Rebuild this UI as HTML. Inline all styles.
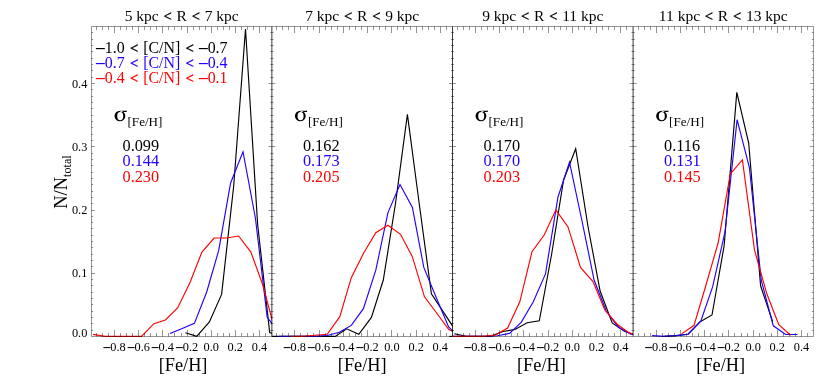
<!DOCTYPE html><html><head><meta charset="utf-8"><style>html,body{margin:0;padding:0;background:#fff}svg{display:block;will-change:transform}text{font-family:"Liberation Serif",serif}</style></head><body>
<svg width="830" height="378" viewBox="0 0 830 378">
<rect width="830" height="378" fill="#fff"/>
<defs>
<clipPath id="c0"><rect x="91.5" y="26.5" width="180.55" height="310.6"/></clipPath>
<clipPath id="c1"><rect x="271.87" y="26.5" width="180.55" height="310.6"/></clipPath>
<clipPath id="c2"><rect x="452.5" y="26.5" width="180.55" height="310.6"/></clipPath>
<clipPath id="c3"><rect x="633.1" y="26.5" width="180.55" height="310.6"/></clipPath>
</defs>
<g clip-path="url(#c0)" fill="none" stroke-width="1.15" stroke-linejoin="miter" stroke-linecap="butt">
<polyline points="185.4,332.7 196.7,336.4 209.4,322.0 221.6,294.4 233.7,186.0 245.5,29.0 257.6,224.0 269.7,332.5 281.8,336.4" stroke="#000"/>
<polyline points="170.1,333.5 182.2,328.5 194.4,323.4 206.7,292.0 218.7,250.4 230.6,183.0 243.0,151.7 255.4,218.0 267.2,317.3 279.4,333.0" stroke="#2000ff"/>
<polyline points="93.1,334.4 105.1,336.4 117.0,336.4 129.2,336.4 141.5,336.4 153.9,323.7 165.4,320.0 177.6,308.0 189.9,282.7 201.9,252.1 214.1,238.0 226.4,238.0 238.6,236.0 250.9,252.1 262.8,285.0 274.9,330.0" stroke="#ff0000"/>
</g>
<g clip-path="url(#c1)" fill="none" stroke-width="1.15" stroke-linejoin="miter" stroke-linecap="butt">
<polyline points="262.0,336.4 335.2,336.4 346.7,328.8 358.8,334.3 371.4,317.4 383.3,280.0 395.5,203.5 407.4,114.3 419.8,208.0 431.4,293.8 444.1,313.1 456.2,331.5" stroke="#000"/>
<polyline points="278.8,336.4 315.1,336.4 327.2,335.5 339.3,332.2 351.3,325.4 363.4,308.7 375.8,270.2 387.9,212.8 400.0,184.6 412.4,207.5 423.8,267.4 436.1,297.2 448.6,327.0 460.7,337.9" stroke="#2000ff"/>
<polyline points="290.8,336.4 303.0,336.4 315.1,335.3 327.2,334.3 339.8,316.7 351.3,277.7 363.7,253.0 375.8,232.7 387.9,225.3 400.5,234.3 412.3,256.6 424.5,296.8 436.6,313.0 448.6,329.3 460.9,336.0" stroke="#ff0000"/>
</g>
<g clip-path="url(#c2)" fill="none" stroke-width="1.15" stroke-linejoin="miter" stroke-linecap="butt">
<polyline points="454.3,333.8 466.4,336.4 478.6,336.4 490.7,336.4 502.9,331.5 515.0,329.5 527.2,322.8 539.3,320.8 551.5,255.0 563.6,180.0 575.7,148.7 587.9,226.0 600.1,291.0 612.2,323.0 624.4,331.3 636.5,335.5" stroke="#000"/>
<polyline points="445.0,336.4 485.0,336.4 497.3,335.8 509.5,333.4 521.2,322.4 533.3,301.8 545.5,273.9 558.0,197.0 569.5,162.2 582.0,221.0 594.1,280.0 606.2,311.0 618.3,327.2 630.4,334.0 642.0,336.0" stroke="#2000ff"/>
<polyline points="445.0,336.4 483.4,336.4 495.5,335.0 507.6,328.1 519.8,301.8 532.0,251.7 544.2,235.0 555.9,209.8 568.0,226.9 580.5,267.4 593.0,281.6 604.7,309.8 617.1,324.2 629.3,333.0 641.3,336.0" stroke="#ff0000"/>
</g>
<g clip-path="url(#c3)" fill="none" stroke-width="1.15" stroke-linejoin="miter" stroke-linecap="butt">
<polyline points="663.4,336.4 675.5,335.6 687.7,334.3 699.8,321.9 712.0,315.0 724.1,246.0 736.8,92.4 748.7,143.0 760.6,285.8 772.7,321.8" stroke="#000"/>
<polyline points="652.1,335.6 664.2,336.4 676.4,335.6 688.4,334.2 700.8,321.2 712.6,286.9 725.0,232.0 737.1,119.7 749.4,167.5 761.2,280.0 773.3,325.8 785.7,334.5 797.5,334.5" stroke="#2000ff"/>
<polyline points="681.6,333.9 694.0,325.3 706.0,285.0 718.1,243.0 730.3,174.0 742.4,159.9 754.5,250.0 766.8,293.8 778.8,324.7 790.6,335.3" stroke="#ff0000"/>
</g>
<path d="M449.1 336.4H452.5" stroke="#000" stroke-width="1.1" fill="none"/>
<path d="M271.87 26.5V336.5M452.5 26.5V336.5M633.1 26.5V336.5" fill="none" stroke="#000" stroke-width="0.78"/>
<path d="M91.5 26.5H813.5M91.5 336.5H813.5M91.5 26.5V336.5M813.5 26.5V336.5M96.50 336.5v-3.5M96.50 26.5v3.5M102.50 336.5v-3.5M102.50 26.5v3.5M108.50 336.5v-3.5M108.50 26.5v3.5M114.50 336.5v-6.5M114.50 26.5v6.5M120.50 336.5v-3.5M120.50 26.5v3.5M126.50 336.5v-3.5M126.50 26.5v3.5M132.50 336.5v-3.5M132.50 26.5v3.5M138.50 336.5v-6.5M138.50 26.5v6.5M144.50 336.5v-3.5M144.50 26.5v3.5M150.50 336.5v-3.5M150.50 26.5v3.5M156.50 336.5v-3.5M156.50 26.5v3.5M162.50 336.5v-6.5M162.50 26.5v6.5M168.50 336.5v-3.5M168.50 26.5v3.5M174.50 336.5v-3.5M174.50 26.5v3.5M181.50 336.5v-3.5M181.50 26.5v3.5M187.50 336.5v-6.5M187.50 26.5v6.5M193.50 336.5v-3.5M193.50 26.5v3.5M199.50 336.5v-3.5M199.50 26.5v3.5M205.50 336.5v-3.5M205.50 26.5v3.5M211.50 336.5v-6.5M211.50 26.5v6.5M217.50 336.5v-3.5M217.50 26.5v3.5M223.50 336.5v-3.5M223.50 26.5v3.5M229.50 336.5v-3.5M229.50 26.5v3.5M235.50 336.5v-6.5M235.50 26.5v6.5M241.50 336.5v-3.5M241.50 26.5v3.5M247.50 336.5v-3.5M247.50 26.5v3.5M253.50 336.5v-3.5M253.50 26.5v3.5M259.50 336.5v-6.5M259.50 26.5v6.5M265.50 336.5v-3.5M265.50 26.5v3.5M276.50 336.5v-3.5M276.50 26.5v3.5M282.50 336.5v-3.5M282.50 26.5v3.5M288.50 336.5v-3.5M288.50 26.5v3.5M294.50 336.5v-6.5M294.50 26.5v6.5M300.50 336.5v-3.5M300.50 26.5v3.5M307.50 336.5v-3.5M307.50 26.5v3.5M313.50 336.5v-3.5M313.50 26.5v3.5M319.50 336.5v-6.5M319.50 26.5v6.5M325.50 336.5v-3.5M325.50 26.5v3.5M331.50 336.5v-3.5M331.50 26.5v3.5M337.50 336.5v-3.5M337.50 26.5v3.5M343.50 336.5v-6.5M343.50 26.5v6.5M349.50 336.5v-3.5M349.50 26.5v3.5M355.50 336.5v-3.5M355.50 26.5v3.5M361.50 336.5v-3.5M361.50 26.5v3.5M367.50 336.5v-6.5M367.50 26.5v6.5M373.50 336.5v-3.5M373.50 26.5v3.5M379.50 336.5v-3.5M379.50 26.5v3.5M385.50 336.5v-3.5M385.50 26.5v3.5M391.50 336.5v-6.5M391.50 26.5v6.5M397.50 336.5v-3.5M397.50 26.5v3.5M403.50 336.5v-3.5M403.50 26.5v3.5M410.50 336.5v-3.5M410.50 26.5v3.5M416.50 336.5v-6.5M416.50 26.5v6.5M422.50 336.5v-3.5M422.50 26.5v3.5M428.50 336.5v-3.5M428.50 26.5v3.5M434.50 336.5v-3.5M434.50 26.5v3.5M440.50 336.5v-6.5M440.50 26.5v6.5M446.50 336.5v-3.5M446.50 26.5v3.5M457.50 336.5v-3.5M457.50 26.5v3.5M463.50 336.5v-3.5M463.50 26.5v3.5M469.50 336.5v-3.5M469.50 26.5v3.5M475.50 336.5v-6.5M475.50 26.5v6.5M481.50 336.5v-3.5M481.50 26.5v3.5M487.50 336.5v-3.5M487.50 26.5v3.5M493.50 336.5v-3.5M493.50 26.5v3.5M499.50 336.5v-6.5M499.50 26.5v6.5M505.50 336.5v-3.5M505.50 26.5v3.5M511.50 336.5v-3.5M511.50 26.5v3.5M517.50 336.5v-3.5M517.50 26.5v3.5M523.50 336.5v-6.5M523.50 26.5v6.5M529.50 336.5v-3.5M529.50 26.5v3.5M536.50 336.5v-3.5M536.50 26.5v3.5M542.50 336.5v-3.5M542.50 26.5v3.5M548.50 336.5v-6.5M548.50 26.5v6.5M554.50 336.5v-3.5M554.50 26.5v3.5M560.50 336.5v-3.5M560.50 26.5v3.5M566.50 336.5v-3.5M566.50 26.5v3.5M572.50 336.5v-6.5M572.50 26.5v6.5M578.50 336.5v-3.5M578.50 26.5v3.5M584.50 336.5v-3.5M584.50 26.5v3.5M590.50 336.5v-3.5M590.50 26.5v3.5M596.50 336.5v-6.5M596.50 26.5v6.5M602.50 336.5v-3.5M602.50 26.5v3.5M608.50 336.5v-3.5M608.50 26.5v3.5M614.50 336.5v-3.5M614.50 26.5v3.5M620.50 336.5v-6.5M620.50 26.5v6.5M626.50 336.5v-3.5M626.50 26.5v3.5M638.50 336.5v-3.5M638.50 26.5v3.5M644.50 336.5v-3.5M644.50 26.5v3.5M650.50 336.5v-3.5M650.50 26.5v3.5M656.50 336.5v-6.5M656.50 26.5v6.5M662.50 336.5v-3.5M662.50 26.5v3.5M668.50 336.5v-3.5M668.50 26.5v3.5M674.50 336.5v-3.5M674.50 26.5v3.5M680.50 336.5v-6.5M680.50 26.5v6.5M686.50 336.5v-3.5M686.50 26.5v3.5M692.50 336.5v-3.5M692.50 26.5v3.5M698.50 336.5v-3.5M698.50 26.5v3.5M704.50 336.5v-6.5M704.50 26.5v6.5M710.50 336.5v-3.5M710.50 26.5v3.5M716.50 336.5v-3.5M716.50 26.5v3.5M722.50 336.5v-3.5M722.50 26.5v3.5M728.50 336.5v-6.5M728.50 26.5v6.5M734.50 336.5v-3.5M734.50 26.5v3.5M741.50 336.5v-3.5M741.50 26.5v3.5M747.50 336.5v-3.5M747.50 26.5v3.5M753.50 336.5v-6.5M753.50 26.5v6.5M759.50 336.5v-3.5M759.50 26.5v3.5M765.50 336.5v-3.5M765.50 26.5v3.5M771.50 336.5v-3.5M771.50 26.5v3.5M777.50 336.5v-6.5M777.50 26.5v6.5M783.50 336.5v-3.5M783.50 26.5v3.5M789.50 336.5v-3.5M789.50 26.5v3.5M795.50 336.5v-3.5M795.50 26.5v3.5M801.50 336.5v-6.5M801.50 26.5v6.5M807.50 336.5v-3.5M807.50 26.5v3.5M91.5 330.50h1.6M271.87 330.50h-1.6M91.5 323.50h1.6M271.87 323.50h-1.6M91.5 317.50h1.6M271.87 317.50h-1.6M91.5 311.50h1.6M271.87 311.50h-1.6M91.5 304.50h1.6M271.87 304.50h-1.6M91.5 298.50h1.6M271.87 298.50h-1.6M91.5 292.50h1.6M271.87 292.50h-1.6M91.5 285.50h1.6M271.87 285.50h-1.6M91.5 279.50h1.6M271.87 279.50h-1.6M91.5 273.50h3.5M271.87 273.50h-3.5M91.5 266.50h1.6M271.87 266.50h-1.6M91.5 260.50h1.6M271.87 260.50h-1.6M91.5 254.50h1.6M271.87 254.50h-1.6M91.5 247.50h1.6M271.87 247.50h-1.6M91.5 241.50h1.6M271.87 241.50h-1.6M91.5 235.50h1.6M271.87 235.50h-1.6M91.5 228.50h1.6M271.87 228.50h-1.6M91.5 222.50h1.6M271.87 222.50h-1.6M91.5 216.50h1.6M271.87 216.50h-1.6M91.5 210.50h3.5M271.87 210.50h-3.5M91.5 203.50h1.6M271.87 203.50h-1.6M91.5 197.50h1.6M271.87 197.50h-1.6M91.5 191.50h1.6M271.87 191.50h-1.6M91.5 184.50h1.6M271.87 184.50h-1.6M91.5 178.50h1.6M271.87 178.50h-1.6M91.5 172.50h1.6M271.87 172.50h-1.6M91.5 165.50h1.6M271.87 165.50h-1.6M91.5 159.50h1.6M271.87 159.50h-1.6M91.5 153.50h1.6M271.87 153.50h-1.6M91.5 146.50h3.5M271.87 146.50h-3.5M91.5 140.50h1.6M271.87 140.50h-1.6M91.5 134.50h1.6M271.87 134.50h-1.6M91.5 127.50h1.6M271.87 127.50h-1.6M91.5 121.50h1.6M271.87 121.50h-1.6M91.5 115.50h1.6M271.87 115.50h-1.6M91.5 108.50h1.6M271.87 108.50h-1.6M91.5 102.50h1.6M271.87 102.50h-1.6M91.5 96.50h1.6M271.87 96.50h-1.6M91.5 89.50h1.6M271.87 89.50h-1.6M91.5 83.50h3.5M271.87 83.50h-3.5M91.5 77.50h1.6M271.87 77.50h-1.6M91.5 70.50h1.6M271.87 70.50h-1.6M91.5 64.50h1.6M271.87 64.50h-1.6M91.5 58.50h1.6M271.87 58.50h-1.6M91.5 51.50h1.6M271.87 51.50h-1.6M91.5 45.50h1.6M271.87 45.50h-1.6M91.5 39.50h1.6M271.87 39.50h-1.6M91.5 32.50h1.6M271.87 32.50h-1.6M271.87 330.50h1.6M452.5 330.50h-1.6M271.87 323.50h1.6M452.5 323.50h-1.6M271.87 317.50h1.6M452.5 317.50h-1.6M271.87 311.50h1.6M452.5 311.50h-1.6M271.87 304.50h1.6M452.5 304.50h-1.6M271.87 298.50h1.6M452.5 298.50h-1.6M271.87 292.50h1.6M452.5 292.50h-1.6M271.87 285.50h1.6M452.5 285.50h-1.6M271.87 279.50h1.6M452.5 279.50h-1.6M271.87 273.50h3.5M452.5 273.50h-3.5M271.87 266.50h1.6M452.5 266.50h-1.6M271.87 260.50h1.6M452.5 260.50h-1.6M271.87 254.50h1.6M452.5 254.50h-1.6M271.87 247.50h1.6M452.5 247.50h-1.6M271.87 241.50h1.6M452.5 241.50h-1.6M271.87 235.50h1.6M452.5 235.50h-1.6M271.87 228.50h1.6M452.5 228.50h-1.6M271.87 222.50h1.6M452.5 222.50h-1.6M271.87 216.50h1.6M452.5 216.50h-1.6M271.87 210.50h3.5M452.5 210.50h-3.5M271.87 203.50h1.6M452.5 203.50h-1.6M271.87 197.50h1.6M452.5 197.50h-1.6M271.87 191.50h1.6M452.5 191.50h-1.6M271.87 184.50h1.6M452.5 184.50h-1.6M271.87 178.50h1.6M452.5 178.50h-1.6M271.87 172.50h1.6M452.5 172.50h-1.6M271.87 165.50h1.6M452.5 165.50h-1.6M271.87 159.50h1.6M452.5 159.50h-1.6M271.87 153.50h1.6M452.5 153.50h-1.6M271.87 146.50h3.5M452.5 146.50h-3.5M271.87 140.50h1.6M452.5 140.50h-1.6M271.87 134.50h1.6M452.5 134.50h-1.6M271.87 127.50h1.6M452.5 127.50h-1.6M271.87 121.50h1.6M452.5 121.50h-1.6M271.87 115.50h1.6M452.5 115.50h-1.6M271.87 108.50h1.6M452.5 108.50h-1.6M271.87 102.50h1.6M452.5 102.50h-1.6M271.87 96.50h1.6M452.5 96.50h-1.6M271.87 89.50h1.6M452.5 89.50h-1.6M271.87 83.50h3.5M452.5 83.50h-3.5M271.87 77.50h1.6M452.5 77.50h-1.6M271.87 70.50h1.6M452.5 70.50h-1.6M271.87 64.50h1.6M452.5 64.50h-1.6M271.87 58.50h1.6M452.5 58.50h-1.6M271.87 51.50h1.6M452.5 51.50h-1.6M271.87 45.50h1.6M452.5 45.50h-1.6M271.87 39.50h1.6M452.5 39.50h-1.6M271.87 32.50h1.6M452.5 32.50h-1.6M452.5 330.50h1.6M633.1 330.50h-1.6M452.5 323.50h1.6M633.1 323.50h-1.6M452.5 317.50h1.6M633.1 317.50h-1.6M452.5 311.50h1.6M633.1 311.50h-1.6M452.5 304.50h1.6M633.1 304.50h-1.6M452.5 298.50h1.6M633.1 298.50h-1.6M452.5 292.50h1.6M633.1 292.50h-1.6M452.5 285.50h1.6M633.1 285.50h-1.6M452.5 279.50h1.6M633.1 279.50h-1.6M452.5 273.50h3.5M633.1 273.50h-3.5M452.5 266.50h1.6M633.1 266.50h-1.6M452.5 260.50h1.6M633.1 260.50h-1.6M452.5 254.50h1.6M633.1 254.50h-1.6M452.5 247.50h1.6M633.1 247.50h-1.6M452.5 241.50h1.6M633.1 241.50h-1.6M452.5 235.50h1.6M633.1 235.50h-1.6M452.5 228.50h1.6M633.1 228.50h-1.6M452.5 222.50h1.6M633.1 222.50h-1.6M452.5 216.50h1.6M633.1 216.50h-1.6M452.5 210.50h3.5M633.1 210.50h-3.5M452.5 203.50h1.6M633.1 203.50h-1.6M452.5 197.50h1.6M633.1 197.50h-1.6M452.5 191.50h1.6M633.1 191.50h-1.6M452.5 184.50h1.6M633.1 184.50h-1.6M452.5 178.50h1.6M633.1 178.50h-1.6M452.5 172.50h1.6M633.1 172.50h-1.6M452.5 165.50h1.6M633.1 165.50h-1.6M452.5 159.50h1.6M633.1 159.50h-1.6M452.5 153.50h1.6M633.1 153.50h-1.6M452.5 146.50h3.5M633.1 146.50h-3.5M452.5 140.50h1.6M633.1 140.50h-1.6M452.5 134.50h1.6M633.1 134.50h-1.6M452.5 127.50h1.6M633.1 127.50h-1.6M452.5 121.50h1.6M633.1 121.50h-1.6M452.5 115.50h1.6M633.1 115.50h-1.6M452.5 108.50h1.6M633.1 108.50h-1.6M452.5 102.50h1.6M633.1 102.50h-1.6M452.5 96.50h1.6M633.1 96.50h-1.6M452.5 89.50h1.6M633.1 89.50h-1.6M452.5 83.50h3.5M633.1 83.50h-3.5M452.5 77.50h1.6M633.1 77.50h-1.6M452.5 70.50h1.6M633.1 70.50h-1.6M452.5 64.50h1.6M633.1 64.50h-1.6M452.5 58.50h1.6M633.1 58.50h-1.6M452.5 51.50h1.6M633.1 51.50h-1.6M452.5 45.50h1.6M633.1 45.50h-1.6M452.5 39.50h1.6M633.1 39.50h-1.6M452.5 32.50h1.6M633.1 32.50h-1.6M633.1 330.50h1.6M813.5 330.50h-1.6M633.1 323.50h1.6M813.5 323.50h-1.6M633.1 317.50h1.6M813.5 317.50h-1.6M633.1 311.50h1.6M813.5 311.50h-1.6M633.1 304.50h1.6M813.5 304.50h-1.6M633.1 298.50h1.6M813.5 298.50h-1.6M633.1 292.50h1.6M813.5 292.50h-1.6M633.1 285.50h1.6M813.5 285.50h-1.6M633.1 279.50h1.6M813.5 279.50h-1.6M633.1 273.50h3.5M813.5 273.50h-3.5M633.1 266.50h1.6M813.5 266.50h-1.6M633.1 260.50h1.6M813.5 260.50h-1.6M633.1 254.50h1.6M813.5 254.50h-1.6M633.1 247.50h1.6M813.5 247.50h-1.6M633.1 241.50h1.6M813.5 241.50h-1.6M633.1 235.50h1.6M813.5 235.50h-1.6M633.1 228.50h1.6M813.5 228.50h-1.6M633.1 222.50h1.6M813.5 222.50h-1.6M633.1 216.50h1.6M813.5 216.50h-1.6M633.1 210.50h3.5M813.5 210.50h-3.5M633.1 203.50h1.6M813.5 203.50h-1.6M633.1 197.50h1.6M813.5 197.50h-1.6M633.1 191.50h1.6M813.5 191.50h-1.6M633.1 184.50h1.6M813.5 184.50h-1.6M633.1 178.50h1.6M813.5 178.50h-1.6M633.1 172.50h1.6M813.5 172.50h-1.6M633.1 165.50h1.6M813.5 165.50h-1.6M633.1 159.50h1.6M813.5 159.50h-1.6M633.1 153.50h1.6M813.5 153.50h-1.6M633.1 146.50h3.5M813.5 146.50h-3.5M633.1 140.50h1.6M813.5 140.50h-1.6M633.1 134.50h1.6M813.5 134.50h-1.6M633.1 127.50h1.6M813.5 127.50h-1.6M633.1 121.50h1.6M813.5 121.50h-1.6M633.1 115.50h1.6M813.5 115.50h-1.6M633.1 108.50h1.6M813.5 108.50h-1.6M633.1 102.50h1.6M813.5 102.50h-1.6M633.1 96.50h1.6M813.5 96.50h-1.6M633.1 89.50h1.6M813.5 89.50h-1.6M633.1 83.50h3.5M813.5 83.50h-3.5M633.1 77.50h1.6M813.5 77.50h-1.6M633.1 70.50h1.6M813.5 70.50h-1.6M633.1 64.50h1.6M813.5 64.50h-1.6M633.1 58.50h1.6M813.5 58.50h-1.6M633.1 51.50h1.6M813.5 51.50h-1.6M633.1 45.50h1.6M813.5 45.50h-1.6M633.1 39.50h1.6M813.5 39.50h-1.6M633.1 32.50h1.6M813.5 32.50h-1.6" fill="none" stroke="#000" stroke-width="0.42"/>
<g font-size="12.3" fill="#000">
<text x="87.3" y="336.5" text-anchor="end">0.0</text>
<text x="87.3" y="277.4" text-anchor="end">0.1</text>
<text x="87.3" y="214.2" text-anchor="end">0.2</text>
<text x="87.3" y="150.9" text-anchor="end">0.3</text>
<text x="87.3" y="87.7" text-anchor="end">0.4</text>
<text x="114.6" y="351.4" text-anchor="middle"><tspan font-weight="bold" font-size="13.53">–</tspan><tspan font-weight="normal" font-size="12.3">0.8</tspan></text>
<text x="138.8" y="351.4" text-anchor="middle"><tspan font-weight="bold" font-size="13.53">–</tspan><tspan font-weight="normal" font-size="12.3">0.6</tspan></text>
<text x="162.9" y="351.4" text-anchor="middle"><tspan font-weight="bold" font-size="13.53">–</tspan><tspan font-weight="normal" font-size="12.3">0.4</tspan></text>
<text x="187.1" y="351.4" text-anchor="middle"><tspan font-weight="bold" font-size="13.53">–</tspan><tspan font-weight="normal" font-size="12.3">0.2</tspan></text>
<text x="211.2" y="351.4" text-anchor="middle">0.0</text>
<text x="235.3" y="351.4" text-anchor="middle">0.2</text>
<text x="259.5" y="351.4" text-anchor="middle">0.4</text>
<text x="294.9" y="351.4" text-anchor="middle"><tspan font-weight="bold" font-size="13.53">–</tspan><tspan font-weight="normal" font-size="12.3">0.8</tspan></text>
<text x="319.1" y="351.4" text-anchor="middle"><tspan font-weight="bold" font-size="13.53">–</tspan><tspan font-weight="normal" font-size="12.3">0.6</tspan></text>
<text x="343.4" y="351.4" text-anchor="middle"><tspan font-weight="bold" font-size="13.53">–</tspan><tspan font-weight="normal" font-size="12.3">0.4</tspan></text>
<text x="367.6" y="351.4" text-anchor="middle"><tspan font-weight="bold" font-size="13.53">–</tspan><tspan font-weight="normal" font-size="12.3">0.2</tspan></text>
<text x="391.9" y="351.4" text-anchor="middle">0.0</text>
<text x="416.1" y="351.4" text-anchor="middle">0.2</text>
<text x="440.3" y="351.4" text-anchor="middle">0.4</text>
<text x="475.5" y="351.4" text-anchor="middle"><tspan font-weight="bold" font-size="13.53">–</tspan><tspan font-weight="normal" font-size="12.3">0.8</tspan></text>
<text x="499.7" y="351.4" text-anchor="middle"><tspan font-weight="bold" font-size="13.53">–</tspan><tspan font-weight="normal" font-size="12.3">0.6</tspan></text>
<text x="523.9" y="351.4" text-anchor="middle"><tspan font-weight="bold" font-size="13.53">–</tspan><tspan font-weight="normal" font-size="12.3">0.4</tspan></text>
<text x="548.1" y="351.4" text-anchor="middle"><tspan font-weight="bold" font-size="13.53">–</tspan><tspan font-weight="normal" font-size="12.3">0.2</tspan></text>
<text x="572.3" y="351.4" text-anchor="middle">0.0</text>
<text x="596.5" y="351.4" text-anchor="middle">0.2</text>
<text x="620.7" y="351.4" text-anchor="middle">0.4</text>
<text x="656.3" y="351.4" text-anchor="middle"><tspan font-weight="bold" font-size="13.53">–</tspan><tspan font-weight="normal" font-size="12.3">0.8</tspan></text>
<text x="680.5" y="351.4" text-anchor="middle"><tspan font-weight="bold" font-size="13.53">–</tspan><tspan font-weight="normal" font-size="12.3">0.6</tspan></text>
<text x="704.7" y="351.4" text-anchor="middle"><tspan font-weight="bold" font-size="13.53">–</tspan><tspan font-weight="normal" font-size="12.3">0.4</tspan></text>
<text x="728.9" y="351.4" text-anchor="middle"><tspan font-weight="bold" font-size="13.53">–</tspan><tspan font-weight="normal" font-size="12.3">0.2</tspan></text>
<text x="753.1" y="351.4" text-anchor="middle">0.0</text>
<text x="777.3" y="351.4" text-anchor="middle">0.2</text>
<text x="801.5" y="351.4" text-anchor="middle">0.4</text>
</g>
<text x="181.7" y="20.5" font-size="15.5" text-anchor="middle">5 kpc <tspan dx="0.9" dy="0.6" font-weight="bold" font-size="14.8" stroke="#000" stroke-width="0.12">&lt;</tspan><tspan dx="0.7" dy="-0.6"> </tspan>R <tspan dx="0.9" dy="0.6" font-weight="bold" font-size="14.8" stroke="#000" stroke-width="0.12">&lt;</tspan><tspan dx="0.7" dy="-0.6"> </tspan>7 kpc</text>
<text x="183.1" y="370.5" font-size="18.3" text-anchor="middle">[Fe/H]</text>
<path fill="#000" fill-rule="evenodd" d="M114.55 116.0a5.4 5.3 0 1 0 10.8 0a5.4 5.3 0 1 0 -10.8 0ZM117.20 116.2a3.0 4.1 0 1 0 6.0 0a3.0 4.1 0 1 0 -6.0 0ZM119.65 110.7H126.10L126.70 110.2V112.1H120.95Z"/>
<text x="127.5" y="125.9" font-size="13.1">[Fe/H]</text>
<text x="122.5" y="150.5" font-size="16.3" fill="#000">0.099</text>
<text x="122.5" y="166.2" font-size="16.3" fill="#2000ff">0.144</text>
<text x="122.5" y="181.9" font-size="16.3" fill="#ff0000">0.230</text>
<text x="362.2" y="20.5" font-size="15.5" text-anchor="middle">7 kpc <tspan dx="0.9" dy="0.6" font-weight="bold" font-size="14.8" stroke="#000" stroke-width="0.12">&lt;</tspan><tspan dx="0.7" dy="-0.6"> </tspan>R <tspan dx="0.9" dy="0.6" font-weight="bold" font-size="14.8" stroke="#000" stroke-width="0.12">&lt;</tspan><tspan dx="0.7" dy="-0.6"> </tspan>9 kpc</text>
<text x="362.2" y="370.5" font-size="18.3" text-anchor="middle">[Fe/H]</text>
<path fill="#000" fill-rule="evenodd" d="M294.92 116.0a5.4 5.3 0 1 0 10.8 0a5.4 5.3 0 1 0 -10.8 0ZM297.57 116.2a3.0 4.1 0 1 0 6.0 0a3.0 4.1 0 1 0 -6.0 0ZM300.02 110.7H306.47L307.07 110.2V112.1H301.32Z"/>
<text x="307.9" y="125.9" font-size="13.1">[Fe/H]</text>
<text x="302.9" y="150.5" font-size="16.3" fill="#000">0.162</text>
<text x="302.9" y="166.2" font-size="16.3" fill="#2000ff">0.173</text>
<text x="302.9" y="181.9" font-size="16.3" fill="#ff0000">0.205</text>
<text x="542.8" y="20.5" font-size="15.5" text-anchor="middle">9 kpc <tspan dx="0.9" dy="0.6" font-weight="bold" font-size="14.8" stroke="#000" stroke-width="0.12">&lt;</tspan><tspan dx="0.7" dy="-0.6"> </tspan>R <tspan dx="0.9" dy="0.6" font-weight="bold" font-size="14.8" stroke="#000" stroke-width="0.12">&lt;</tspan><tspan dx="0.7" dy="-0.6"> </tspan>11 kpc</text>
<text x="541.4" y="370.5" font-size="18.3" text-anchor="middle">[Fe/H]</text>
<path fill="#000" fill-rule="evenodd" d="M475.55 116.0a5.4 5.3 0 1 0 10.8 0a5.4 5.3 0 1 0 -10.8 0ZM478.20 116.2a3.0 4.1 0 1 0 6.0 0a3.0 4.1 0 1 0 -6.0 0ZM480.65 110.7H487.10L487.70 110.2V112.1H481.95Z"/>
<text x="488.5" y="125.9" font-size="13.1">[Fe/H]</text>
<text x="483.5" y="150.5" font-size="16.3" fill="#000">0.170</text>
<text x="483.5" y="166.2" font-size="16.3" fill="#2000ff">0.170</text>
<text x="483.5" y="181.9" font-size="16.3" fill="#ff0000">0.203</text>
<text x="723.3" y="20.5" font-size="15.5" text-anchor="middle">11 kpc <tspan dx="0.9" dy="0.6" font-weight="bold" font-size="14.8" stroke="#000" stroke-width="0.12">&lt;</tspan><tspan dx="0.7" dy="-0.6"> </tspan>R <tspan dx="0.9" dy="0.6" font-weight="bold" font-size="14.8" stroke="#000" stroke-width="0.12">&lt;</tspan><tspan dx="0.7" dy="-0.6"> </tspan>13 kpc</text>
<text x="720.7" y="370.5" font-size="18.3" text-anchor="middle">[Fe/H]</text>
<path fill="#000" fill-rule="evenodd" d="M656.15 116.0a5.4 5.3 0 1 0 10.8 0a5.4 5.3 0 1 0 -10.8 0ZM658.80 116.2a3.0 4.1 0 1 0 6.0 0a3.0 4.1 0 1 0 -6.0 0ZM661.25 110.7H667.70L668.30 110.2V112.1H662.55Z"/>
<text x="669.1" y="125.9" font-size="13.1">[Fe/H]</text>
<text x="664.1" y="150.5" font-size="16.3" fill="#000">0.116</text>
<text x="664.1" y="166.2" font-size="16.3" fill="#2000ff">0.131</text>
<text x="664.1" y="181.9" font-size="16.3" fill="#ff0000">0.145</text>
<text x="96.0" y="53.1" font-size="15.9" fill="#000"><tspan font-weight="bold" font-size="17.49">–</tspan><tspan font-weight="normal" font-size="15.9">1.0 <tspan dx="1.3" dy="-0.3" font-weight="bold" font-size="14.8" stroke="#000" stroke-width="0.25">&lt;</tspan><tspan dx="0.9" dy="0.3"> </tspan>[C/N] <tspan dx="1.3" dy="-0.3" font-weight="bold" font-size="14.8" stroke="#000" stroke-width="0.25">&lt;</tspan><tspan dx="0.9" dy="0.3"> </tspan></tspan><tspan font-weight="bold" font-size="17.49">–</tspan><tspan font-weight="normal" font-size="15.9">0.7</tspan></text>
<text x="96.0" y="68.2" font-size="15.9" fill="#2000ff"><tspan font-weight="bold" font-size="17.49">–</tspan><tspan font-weight="normal" font-size="15.9">0.7 <tspan dx="1.3" dy="-0.3" font-weight="bold" font-size="14.8" stroke="#2000ff" stroke-width="0.25">&lt;</tspan><tspan dx="0.9" dy="0.3"> </tspan>[C/N] <tspan dx="1.3" dy="-0.3" font-weight="bold" font-size="14.8" stroke="#2000ff" stroke-width="0.25">&lt;</tspan><tspan dx="0.9" dy="0.3"> </tspan></tspan><tspan font-weight="bold" font-size="17.49">–</tspan><tspan font-weight="normal" font-size="15.9">0.4</tspan></text>
<text x="96.0" y="83.1" font-size="15.9" fill="#ff0000"><tspan font-weight="bold" font-size="17.49">–</tspan><tspan font-weight="normal" font-size="15.9">0.4 <tspan dx="1.3" dy="-0.3" font-weight="bold" font-size="14.8" stroke="#ff0000" stroke-width="0.25">&lt;</tspan><tspan dx="0.9" dy="0.3"> </tspan>[C/N] <tspan dx="1.3" dy="-0.3" font-weight="bold" font-size="14.8" stroke="#ff0000" stroke-width="0.25">&lt;</tspan><tspan dx="0.9" dy="0.3"> </tspan></tspan><tspan font-weight="bold" font-size="17.49">–</tspan><tspan font-weight="normal" font-size="15.9">0.1</tspan></text>
<text transform="translate(66.8,208.8) rotate(-90)" font-size="18.5">N/N<tspan font-size="12.2" dy="4.15">total</tspan></text>
</svg></body></html>
